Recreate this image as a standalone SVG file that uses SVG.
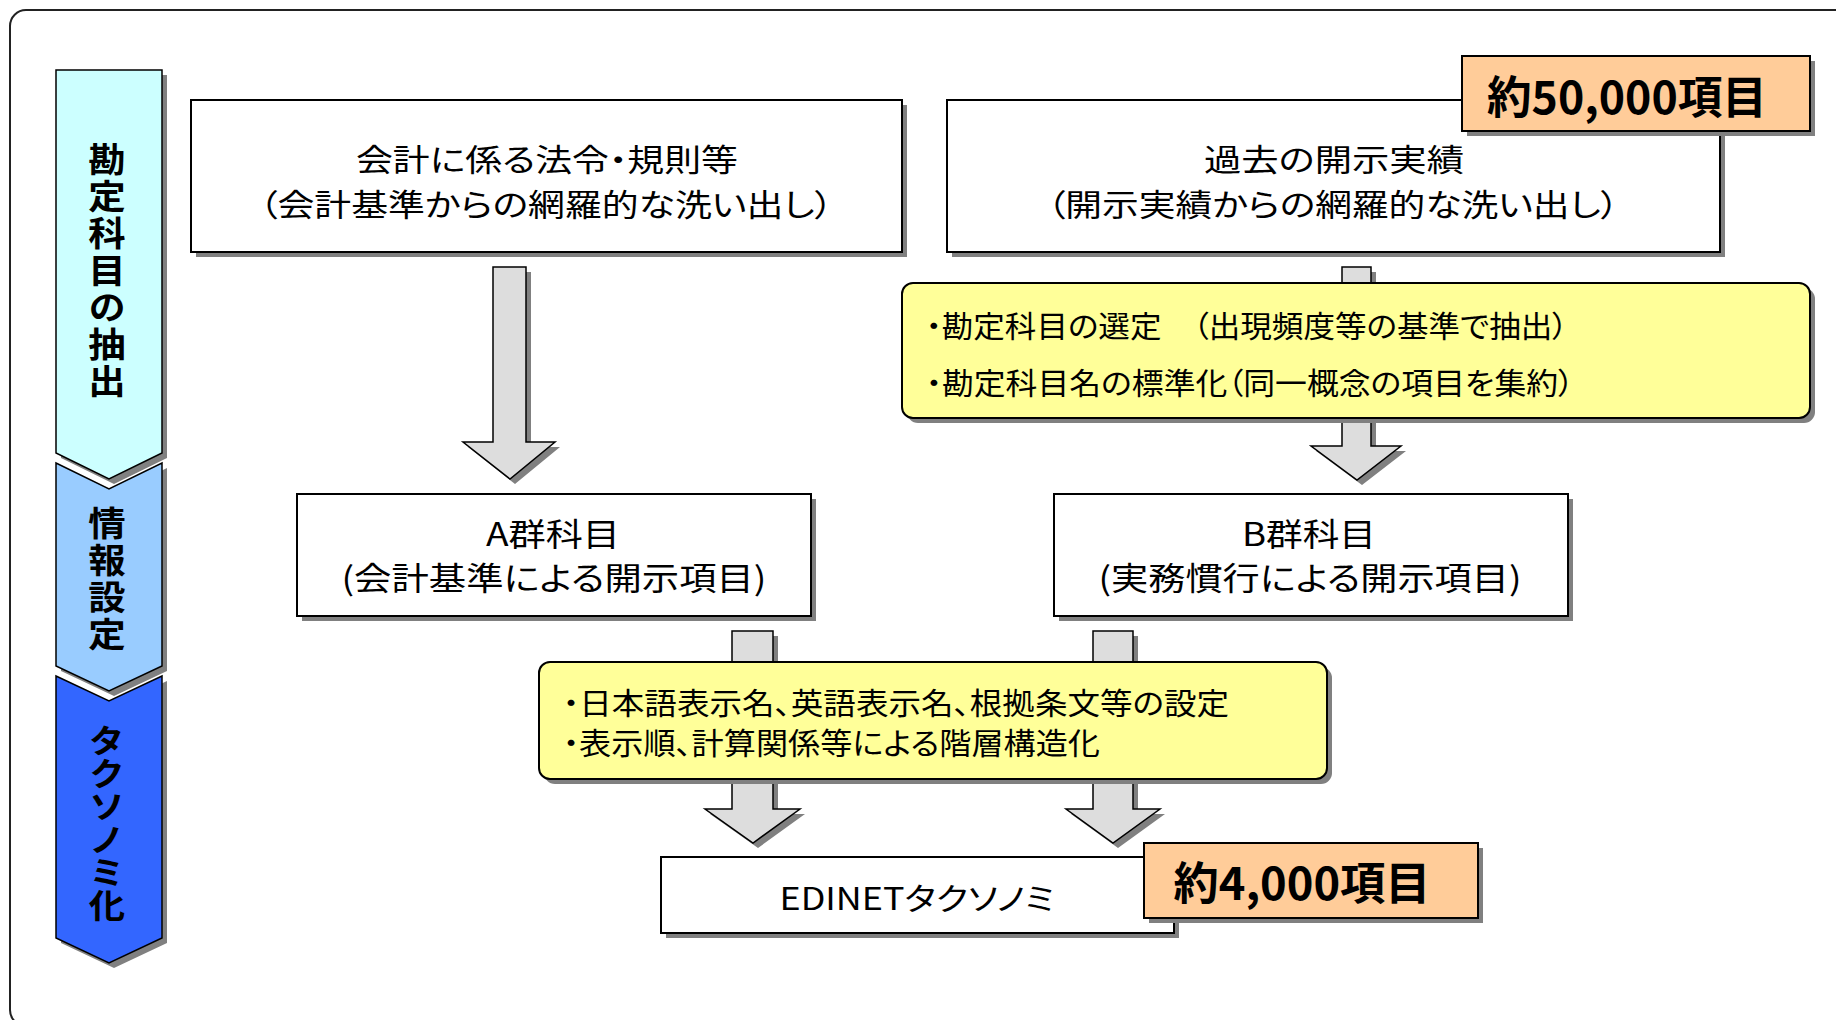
<svg xmlns="http://www.w3.org/2000/svg" width="1836" height="1020" viewBox="0 0 1836 1020">
<style>
.t{font-family:'Noto Sans CJK JP','Noto Sans',sans-serif;font-feature-settings:'palt';fill:#000}
.v{font-family:'Noto Sans CJK JP','Noto Sans',sans-serif;font-weight:bold;fill:#000;writing-mode:vertical-rl}
.b{font-weight:bold}
.box{fill:#fff;stroke:#000;stroke-width:2}
.sh{fill:#808080}
.yel{fill:#FFFF99;stroke:#000;stroke-width:2}
.badge{fill:#FFCC99;stroke:#000;stroke-width:2}
.arr{fill:#DDDDDD;stroke:#000;stroke-width:1.5}
.chev{stroke:#000;stroke-width:1.5}
</style>
<rect x="10" y="10" width="1900" height="1016" rx="16" fill="#fff" stroke="#222" stroke-width="2"/>

<g id="phase-extract">
<path class="sh" d="M61,75 H167 V458 L114,484 L61,458 Z"/>
<path class="chev" fill="#CCFFFF" d="M56,70 H162 V453 L109,479 L56,453 Z"/>
<text class="v" font-size="34" letter-spacing="3" x="107" y="142" transform="translate(107 0) scale(1.1 1) translate(-107 0)">勘定科目の抽出</text>
</g>
<g id="phase-info">
<path class="sh" d="M61,468 L114,494 L167,468 V671 L114,696 L61,671 Z"/>
<path class="chev" fill="#99CCFF" d="M56,463 L109,489 L162,463 V666 L109,691 L56,666 Z"/>
<text class="v" font-size="34" letter-spacing="3" x="107" y="506" transform="translate(107 0) scale(1.1 1) translate(-107 0)">情報設定</text>
</g>
<g id="phase-taxonomy">
<path class="sh" d="M61,681 L114,706 L167,681 V943 L114,968 L61,943 Z"/>
<path class="chev" fill="#3366FF" d="M56,676 L109,701 L162,676 V938 L109,963 L56,938 Z"/>
<text class="v" font-size="33" x="107" y="724" transform="translate(107 0) scale(1.1 1) translate(-107 0)">タクソノミ化</text>
</g>

<g id="connectors">
<path class="sh" d="M498,272 H531 V447 H560 L515,484 L468,447 H498 Z"/>
<path class="arr" d="M493,267 H526 V442 H555 L510,479 L463,442 H493 Z"/>
<path class="sh" d="M1347,272 H1376 V451 H1406 L1362,485 L1316,451 H1347 Z"/>
<path class="arr" d="M1342,267 H1371 V446 H1401 L1357,480 L1311,446 H1342 Z"/>
<path class="sh" d="M737,636 H778 V814 H805 L758,848 L710,814 H737 Z"/>
<path class="arr" d="M732,631 H773 V809 H800 L753,843 L705,809 H732 Z"/>
<path class="sh" d="M1098,636 H1138 V814 H1165 L1118,848 L1071,814 H1098 Z"/>
<path class="arr" d="M1093,631 H1133 V809 H1160 L1113,843 L1066,809 H1093 Z"/>
</g>

<g id="box-laws">
<rect class="sh" x="196" y="105" width="711" height="152"/>
<rect class="box" x="191" y="100" width="711" height="152"/>
<text class="t" font-size="31" text-anchor="middle" x="547" y="171" textLength="382" lengthAdjust="spacingAndGlyphs">会計に係る法令・規則等</text>
<text class="t" font-size="31" text-anchor="middle" x="546" y="216" textLength="574" lengthAdjust="spacingAndGlyphs">（会計基準からの網羅的な洗い出し）</text>
</g>

<g id="box-past">
<rect class="sh" x="952" y="105" width="773" height="152"/>
<rect class="box" x="947" y="100" width="773" height="152"/>
<text class="t" font-size="31" text-anchor="middle" x="1334" y="171" textLength="260" lengthAdjust="spacingAndGlyphs">過去の開示実績</text>
<text class="t" font-size="31" text-anchor="middle" x="1333" y="216" textLength="572" lengthAdjust="spacingAndGlyphs">（開示実績からの網羅的な洗い出し）</text>
</g>

<g id="badge-50000">
<rect class="sh" x="1467" y="61" width="348" height="75"/>
<rect class="badge" x="1462" y="56" width="348" height="75"/>
<text class="t b" font-size="45" text-anchor="middle" x="1627" y="114" textLength="280" lengthAdjust="spacingAndGlyphs">約50,000項目</text>
</g>

<g id="note-select">
<rect class="sh" x="907" y="288" width="908" height="135" rx="11"/>
<rect class="yel" x="902" y="283" width="908" height="135" rx="11"/>
<text class="t" font-size="30" x="926" y="337" textLength="642" lengthAdjust="spacingAndGlyphs">・勘定科目の選定　（出現頻度等の基準で抽出）</text>
<text class="t" font-size="30" x="926" y="394" textLength="648" lengthAdjust="spacingAndGlyphs">・勘定科目名の標準化（同一概念の項目を集約）</text>
</g>

<g id="box-a">
<rect class="sh" x="302" y="499" width="514" height="122"/>
<rect class="box" x="297" y="494" width="514" height="122"/>
<text class="t" font-size="32" text-anchor="middle" x="553" y="546" textLength="134" lengthAdjust="spacingAndGlyphs">A群科目</text>
<text class="t" font-size="32" text-anchor="middle" x="554" y="590" textLength="425" lengthAdjust="spacingAndGlyphs">(会計基準による開示項目)</text>
</g>

<g id="box-b">
<rect class="sh" x="1059" y="499" width="514" height="122"/>
<rect class="box" x="1054" y="494" width="514" height="122"/>
<text class="t" font-size="32" text-anchor="middle" x="1309" y="546" textLength="134" lengthAdjust="spacingAndGlyphs">B群科目</text>
<text class="t" font-size="32" text-anchor="middle" x="1310" y="590" textLength="423" lengthAdjust="spacingAndGlyphs">(実務慣行による開示項目)</text>
</g>

<g id="note-setting">
<rect class="sh" x="544" y="667" width="788" height="117" rx="11"/>
<rect class="yel" x="539" y="662" width="788" height="117" rx="11"/>
<text class="t" font-size="30" x="563" y="714" textLength="666" lengthAdjust="spacingAndGlyphs">・日本語表示名、英語表示名、根拠条文等の設定</text>
<text class="t" font-size="30" x="563" y="754" textLength="537" lengthAdjust="spacingAndGlyphs">・表示順、計算関係等による階層構造化</text>
</g>

<g id="box-edinet">
<rect class="sh" x="666" y="862" width="513" height="76"/>
<rect class="box" x="661" y="857" width="513" height="76"/>
<text class="t" font-size="31" text-anchor="middle" x="917" y="910" textLength="275" lengthAdjust="spacingAndGlyphs">EDINETタクソノミ</text>
</g>

<g id="badge-4000">
<rect class="sh" x="1149" y="848" width="334" height="75"/>
<rect class="badge" x="1144" y="843" width="334" height="75"/>
<text class="t b" font-size="45" text-anchor="middle" x="1302" y="900" textLength="257" lengthAdjust="spacingAndGlyphs">約4,000項目</text>
</g>
</svg>
